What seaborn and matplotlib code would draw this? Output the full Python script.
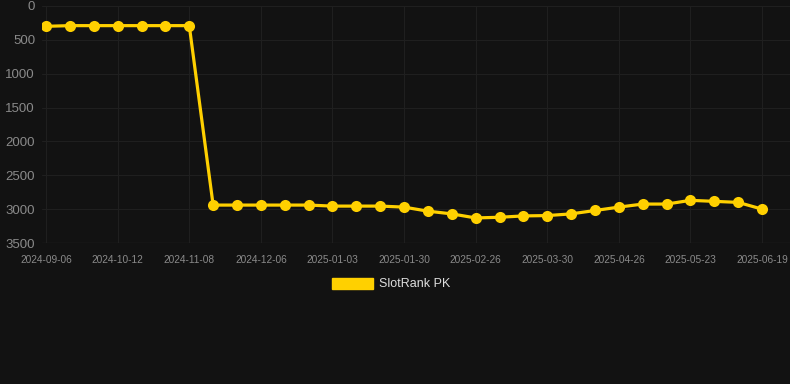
import pandas as pd
import seaborn as sns
import matplotlib.pyplot as plt
from matplotlib.patches import Patch

# fechas de cada punto (solo cada 3ra se etiqueta en el eje)
dates = [
    '2024-09-06', '2024-09-18', '2024-09-30', '2024-10-12', '2024-10-21', '2024-10-30',
    '2024-11-08', '2024-11-17', '2024-11-26', '2024-12-06', '2024-12-15', '2024-12-24',
    '2025-01-03', '2025-01-12', '2025-01-21', '2025-01-30', '2025-02-08', '2025-02-17',
    '2025-02-26', '2025-03-08', '2025-03-19', '2025-03-30', '2025-04-08', '2025-04-17',
    '2025-04-26', '2025-05-05', '2025-05-14', '2025-05-23', '2025-06-01', '2025-06-10',
    '2025-06-19',
]
ranks = [
    300, 290, 290, 290, 290, 290, 290,
    2940, 2940, 2940, 2940, 2940, 2955, 2955, 2955, 2970,
    3030, 3070, 3130, 3120, 3100, 3095, 3070, 3020, 2970,
    2925, 2925, 2870, 2885, 2900, 3000,
]
series_name = 'SlotRank PK'
y_ticks = [0, 500, 1000, 1500, 2000, 2500, 3000, 3500]

bg = '#121212'
gold = '#FFD000'

sns.set_theme(style='dark')
plt.rcParams['font.family'] = ['Liberation Sans', 'DejaVu Sans']

df = pd.DataFrame({'pos': range(len(dates)), 'date': dates, 'rank': ranks})

fig = plt.figure(figsize=(7.9, 3.84), dpi=100, facecolor=bg)
ax = fig.add_axes([42 / 790, 1 - 243 / 384, 748 / 790, 237 / 384])
ax.set_facecolor(bg)

sns.lineplot(data=df, x='pos', y='rank', ax=ax, color=gold, linewidth=2.3,
             marker='o', markersize=8, markeredgewidth=0, legend=False)

ax.set_ylim(3500, 0)
ax.set_yticks(y_ticks)
ax.set_xlim(-0.17, len(dates) - 1 + 1.17)
tick_pos = list(range(0, len(dates), 3))
ax.set_xticks(tick_pos)
ax.set_xticklabels([dates[i] for i in tick_pos])

ax.grid(True, color='#1f1f1f', linewidth=0.8)
for s in ax.spines.values():
    s.set_visible(False)
ax.axhline(3500, color='#262626', linewidth=1)
ax.tick_params(axis='y', colors='#8a8a8a', labelsize=9.5, length=0, pad=5)
ax.tick_params(axis='x', colors='#8a8a8a', labelsize=7.3, length=0, pad=8.5)
ax.set_xlabel('')
ax.set_ylabel('')

fig.legend(handles=[Patch(facecolor=gold, edgecolor=gold, label=series_name)],
           loc='center', bbox_to_anchor=(391 / 790, 1 - 284 / 384),
           frameon=False, fontsize=9, labelcolor='#dddddd',
           handlelength=3.3, handleheight=1.0, handletextpad=0.5)

plt.savefig('out.png', facecolor=bg)
